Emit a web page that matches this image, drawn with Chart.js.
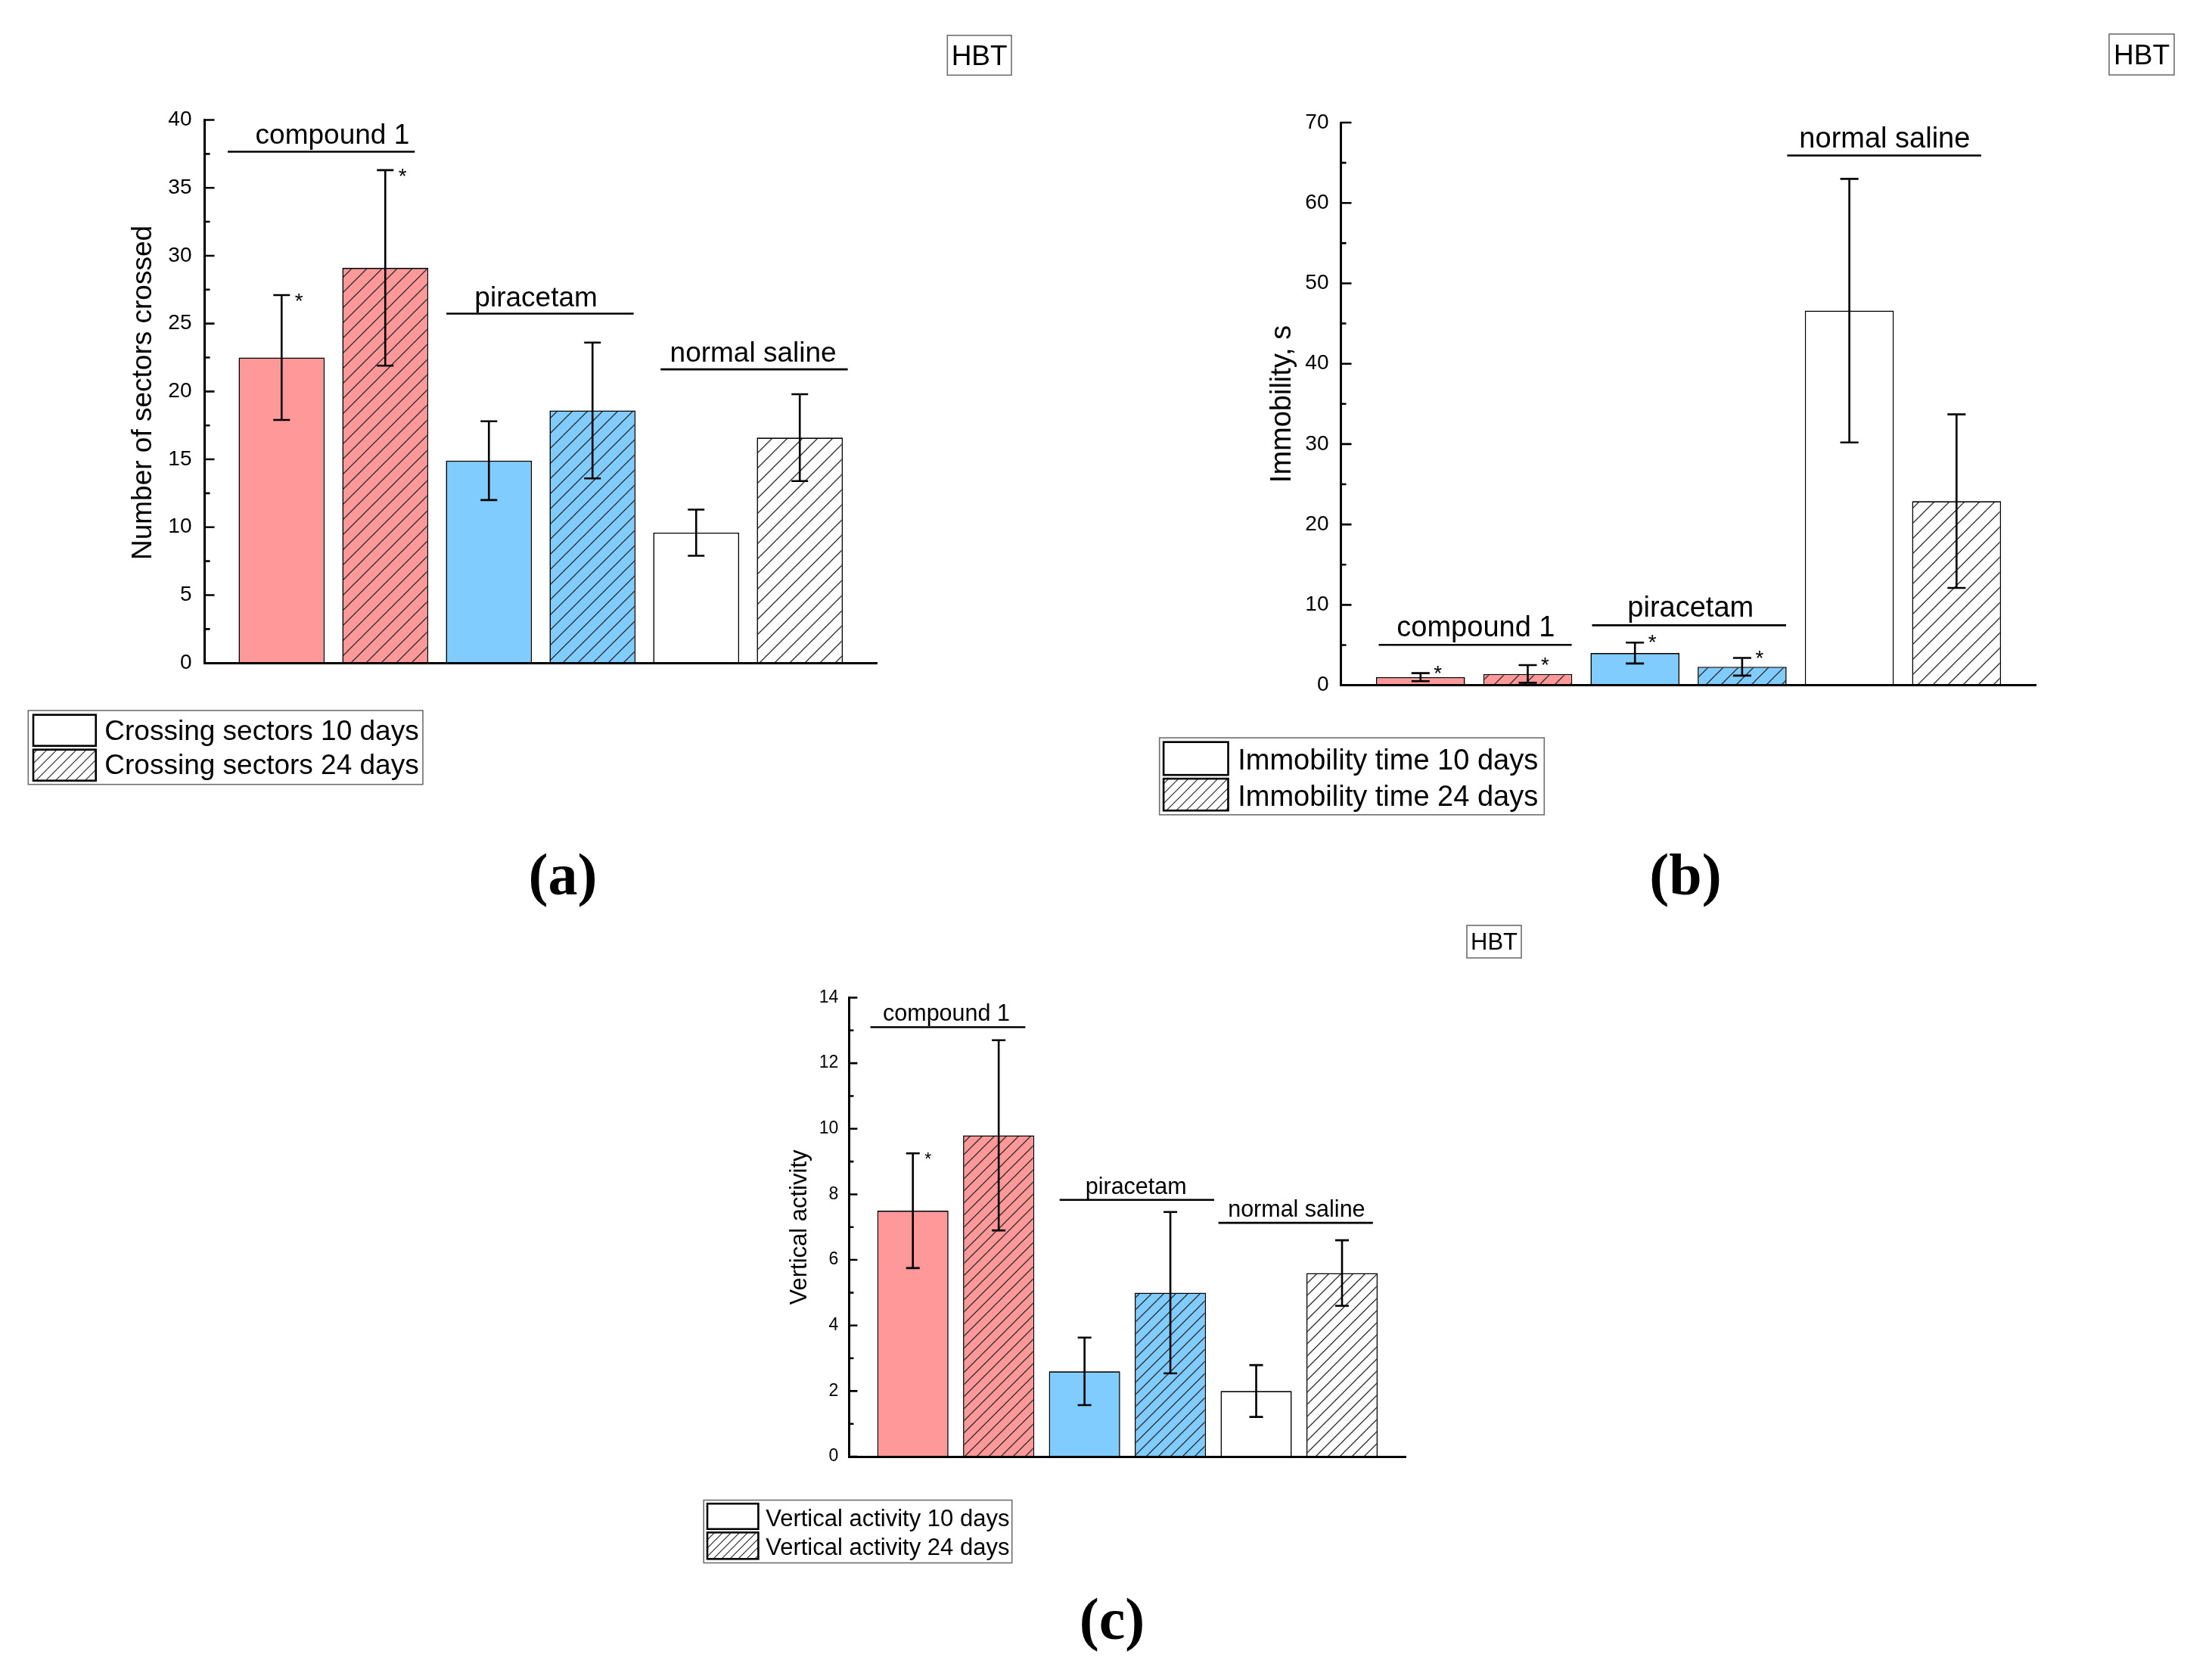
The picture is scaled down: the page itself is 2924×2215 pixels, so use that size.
<!DOCTYPE html>
<html>
<head>
<meta charset="utf-8">
<script src="https://cdn.jsdelivr.net/npm/chart.js@4.4.1/dist/chart.umd.min.js"></script>
<style>
html,body{margin:0;padding:0;background:#fff;width:2924px;height:2215px;overflow:hidden}
canvas{position:absolute;left:0;top:0}
</style>
</head>
<body>
<canvas id="chartA" width="2924" height="2215"></canvas>
<canvas id="chartB" width="2924" height="2215"></canvas>
<canvas id="chartC" width="2924" height="2215"></canvas>
<script>
// ---------------- data ----------------
const groupNames = ['compound 1', 'piracetam', 'normal saline'];
const barCategories = ['compound 1 / 10 days', 'compound 1 / 24 days', 'piracetam / 10 days', 'piracetam / 24 days', 'normal saline / 10 days', 'normal saline / 24 days'];

const crossingMean = [22.5, 29.1, 14.9, 18.6, 9.6, 16.6];
const crossingErr  = [4.6, 7.2, 2.9, 5.0, 1.7, 3.2];
const crossingSig  = [true, true, false, false, false, false];
const crossingTicks = [0, 5, 10, 15, 20, 25, 30, 35, 40];

const immobilityMean = [1.0, 1.4, 4.0, 2.3, 46.6, 22.9];
const immobilityErr  = [0.5, 1.1, 1.3, 1.1, 16.4, 10.8];
const immobilitySig  = [true, true, true, true, false, false];
const immobilityTicks = [0, 10, 20, 30, 40, 50, 60, 70];

const verticalMean = [7.5, 9.8, 2.6, 5.0, 2.0, 5.6];
const verticalErr  = [1.75, 2.9, 1.03, 2.46, 0.79, 1.0];
const verticalSig  = [true, false, false, false, false, false];
const verticalTicks = [0, 2, 4, 6, 8, 10, 12, 14];

// ---------------- styling ----------------
const W = 2924, H = 2215, AXW = 150;
const FONT = '"Liberation Sans", Arial, sans-serif';
const SERIF = '"Liberation Serif", "Times New Roman", serif';
const PINK = '#FF9999', BLUE = '#80CCFF', WHITE = '#FFFFFF';
const barFill = [PINK, PINK, BLUE, BLUE, WHITE, WHITE];
Chart.defaults.font.family = FONT;
Chart.defaults.color = '#000';

function hatch(color, s, lw) {
  const c = document.createElement('canvas');
  c.width = s; c.height = s;
  const x = c.getContext('2d');
  x.fillStyle = color; x.fillRect(0, 0, s, s);
  x.strokeStyle = '#2b2b2b'; x.lineWidth = lw;
  x.beginPath();
  x.moveTo(-1, s + 1); x.lineTo(s + 1, -1);
  x.moveTo(-s / 2 - 1, s / 2 + 1); x.lineTo(s / 2 + 1, -s / 2 - 1);
  x.moveTo(s / 2 - 1, s * 1.5 + 1); x.lineTo(s * 1.5 + 1, s / 2 - 1);
  x.stroke();
  return x.createPattern(c, 'repeat');
}

function build(id, S) {
  const hatchFill = barFill.map(c => hatch(c, S.hatch, 1.3));
  const legendHatch = hatch(WHITE, S.legend.hatch, 1.2);
  const even = [0, 2, 4], odd = [1, 3, 5];
  const mk = (idxs, label, fills) => ({
    label,
    data: idxs.map(i => ({ x: i, y: S.mean[i] })),
    backgroundColor: idxs.map(i => fills[i]),
    borderColor: '#000',
    borderWidth: 1.6,
    grouped: false,
    barPercentage: 0.83,
    categoryPercentage: 1
  });

  const plugin = {
    id: 'deco' + id,
    afterDatasetsDraw(chart) {
      const ctx = chart.ctx, ys = chart.scales.y, xs = chart.scales.x;
      ctx.save();
      ctx.strokeStyle = '#000'; ctx.lineWidth = 2.6; ctx.lineCap = 'butt';
      for (let i = 0; i < S.mean.length; i++) {
        const cx = xs.getPixelForValue(i);
        const yt = ys.getPixelForValue(S.mean[i] + S.err[i]);
        const yb = ys.getPixelForValue(S.mean[i] - S.err[i]);
        ctx.beginPath();
        ctx.moveTo(cx, yt); ctx.lineTo(cx, yb);
        ctx.moveTo(cx - S.cap, yt); ctx.lineTo(cx + S.cap, yt);
        ctx.moveTo(cx - S.cap, yb); ctx.lineTo(cx + S.cap, yb);
        ctx.stroke();
        if (S.sig[i]) {
          ctx.fillStyle = '#000';
          ctx.font = S.starSize + 'px ' + FONT;
          ctx.textAlign = 'center'; ctx.textBaseline = 'alphabetic';
          ctx.fillText('*', cx + S.starDx, yt + S.starDy + 0.575 * S.starSize);
        }
      }
      ctx.restore();
    },
    afterDraw(chart) {
      const ctx = chart.ctx, ys = chart.scales.y, xs = chart.scales.x;
      const left = chart.chartArea.left;
      ctx.save();
      ctx.strokeStyle = '#000'; ctx.lineWidth = 2.6;
      // major + minor ticks pointing inward
      const tk = S.ticks;
      ctx.beginPath();
      for (let i = 0; i < tk.length; i++) {
        const y = ys.getPixelForValue(tk[i]);
        ctx.moveTo(left, y); ctx.lineTo(left + S.major, y);
        if (i < tk.length - 1) {
          const ym = ys.getPixelForValue((tk[i] + tk[i + 1]) / 2);
          ctx.moveTo(left, ym); ctx.lineTo(left + S.minor, ym);
        }
      }
      ctx.stroke();
      // group labels
      ctx.fillStyle = '#000';
      ctx.font = S.groupSize + 'px ' + FONT;
      ctx.textAlign = 'center'; ctx.textBaseline = 'alphabetic';
      S.groups.forEach((g, k) => {
        const y = ys.getPixelForValue(g.y);
        ctx.beginPath();
        ctx.moveTo(xs.getPixelForValue(g.x1), y);
        ctx.lineTo(xs.getPixelForValue(g.x2), y);
        ctx.stroke();
        ctx.fillText(groupNames[k], xs.getPixelForValue(g.tx), y - S.groupGap);
      });
      // y title
      ctx.save();
      ctx.translate(S.title.x, S.title.y);
      ctx.rotate(-Math.PI / 2);
      ctx.font = S.title.size + 'px ' + FONT;
      ctx.textAlign = 'center'; ctx.textBaseline = 'middle';
      ctx.fillText(S.title.text, 0, 0);
      ctx.restore();
      // legend
      const L = S.legend;
      ctx.strokeStyle = '#6e6e6e'; ctx.lineWidth = 1.6;
      ctx.strokeRect(L.box[0], L.box[1], L.box[2] - L.box[0], L.box[3] - L.box[1]);
      const dsets = chart.data.datasets;
      [0, 1].forEach(j => {
        const r = L.sw[j];
        ctx.fillStyle = j === 0 ? WHITE : legendHatch;
        ctx.fillRect(L.sx[0], r[0], L.sx[1] - L.sx[0], r[1] - r[0]);
        ctx.strokeStyle = '#000'; ctx.lineWidth = 2.6;
        ctx.strokeRect(L.sx[0], r[0], L.sx[1] - L.sx[0], r[1] - r[0]);
        ctx.fillStyle = '#000';
        ctx.font = L.size + 'px ' + FONT;
        ctx.textAlign = 'left'; ctx.textBaseline = 'alphabetic';
        ctx.fillText(dsets[j].label, L.tx, L.base[j]);
      });
      // HBT box
      const B = S.hbt;
      ctx.strokeStyle = '#6e6e6e'; ctx.lineWidth = 1.6;
      ctx.strokeRect(B.x, B.y, B.w, B.h);
      ctx.fillStyle = '#000';
      ctx.font = B.size + 'px ' + FONT;
      ctx.textAlign = 'center'; ctx.textBaseline = 'alphabetic';
      ctx.fillText('HBT', B.x + B.w / 2, B.base);
      // panel label
      ctx.font = 'bold ' + S.panel.size + 'px ' + SERIF;
      ctx.textAlign = 'center'; ctx.textBaseline = 'alphabetic';
      ctx.fillText(S.panel.text, S.panel.x, S.panel.base);
      ctx.restore();
    }
  };

  return new Chart(document.getElementById(id), {
    type: 'bar',
    data: {
      datasets: [mk(even, S.labels[0], barFill), mk(odd, S.labels[1], hatchFill)]
    },
    options: {
      responsive: false,
      animation: false,
      events: [],
      layout: { padding: { left: S.area.l - AXW, top: S.area.t, right: W - S.area.r, bottom: H - S.area.b } },
      plugins: { legend: { display: false }, tooltip: { enabled: false }, title: { display: false } },
      scales: {
        x: {
          type: 'linear', min: -0.743, max: 5.743, offset: false,
          afterBuildTicks: s => { s.ticks = barCategories.map((c, i) => ({ value: i })); },
          ticks: { display: false },
          grid: { drawOnChartArea: false, drawTicks: false, color: 'rgba(0,0,0,0)' },
          border: { display: true, width: 3, color: '#000', z: 1 },
          afterFit: s => { s.height = 0; }
        },
        y: {
          min: 0, max: S.ticks[S.ticks.length - 1],
          afterBuildTicks: s => { s.ticks = S.ticks.map(v => ({ value: v })); },
          ticks: { padding: S.tickPad, color: '#000', autoSkip: false, font: { family: FONT, size: S.tickSize } },
          grid: { drawOnChartArea: false, drawTicks: false, color: 'rgba(0,0,0,0)' },
          border: { display: true, width: 3, color: '#000', z: 1 },
          afterFit: s => { s.width = AXW; }
        }
      }
    },
    plugins: [plugin]
  });
}

// ---------------- panel (a) ----------------
build('chartA', {
  mean: crossingMean, err: crossingErr, sig: crossingSig, ticks: crossingTicks,
  labels: ['Crossing sectors 10 days', 'Crossing sectors 24 days'],
  area: { l: 270.5, r: 1159, t: 158.5, b: 876.2 },
  hatch: 20, cap: 11, starDx: 23, starDy: 1, starSize: 28,
  tickSize: 28, tickPad: 17, major: 13, minor: 7,
  groupSize: 37, groupGap: 10,
  groups: [
    { x1: -0.52, x2: 1.285, y: 37.66, tx: 0.49 },
    { x1: 1.59, x2: 3.397, y: 25.73, tx: 2.455 },
    { x1: 3.657, x2: 5.463, y: 21.63, tx: 4.55 }
  ],
  title: { text: 'Number of sectors crossed', x: 190, y: 519, size: 37 },
  legend: { box: [37.3, 939, 559, 1036.7], sx: [44, 126.7], sw: [[944.7, 985.7], [990.7, 1031.7]], tx: 138.3, base: [978.3, 1023.3], size: 37, hatch: 13 },
  hbt: { x: 1252.3, y: 46.7, w: 84.7, h: 52.6, size: 37, base: 86 },
  panel: { text: '(a)', x: 744, base: 1182, size: 78 }
});

// ---------------- panel (b) ----------------
build('chartB', {
  mean: immobilityMean, err: immobilityErr, sig: immobilitySig, ticks: immobilityTicks,
  labels: ['Immobility time 10 days', 'Immobility time 24 days'],
  area: { l: 1772.5, r: 2691.6, t: 162, b: 905.6 },
  hatch: 20, cap: 12, starDx: 23, starDy: -7, starSize: 28,
  tickSize: 28, tickPad: 16, major: 14, minor: 7,
  groupSize: 38, groupGap: 11,
  groups: [
    { x1: -0.39, x2: 1.41, y: 5.02, tx: 0.516 },
    { x1: 1.60, x2: 3.41, y: 7.46, tx: 2.519 },
    { x1: 3.42, x2: 5.23, y: 65.9, tx: 4.33 }
  ],
  title: { text: 'Immobility, s', x: 1696, y: 534, size: 38 },
  legend: { box: [1532.7, 975.1, 2041.3, 1076.8], sx: [1538.1, 1623.5], sw: [[980.7, 1024.2], [1029.1, 1071.2]], tx: 1636.2, base: [1017.2, 1064.9], size: 38, hatch: 13 },
  hbt: { x: 2788, y: 45, w: 86, h: 54, size: 37, base: 85 },
  panel: { text: '(b)', x: 2228, base: 1182, size: 78 }
});

// ---------------- panel (c) ----------------
build('chartC', {
  mean: verticalMean, err: verticalErr, sig: verticalSig, ticks: verticalTicks,
  labels: ['Vertical activity 10 days', 'Vertical activity 24 days'],
  area: { l: 1122.4, r: 1858.3, t: 1318.5, b: 1925 },
  hatch: 16, cap: 9, starDx: 20, starDy: 2, starSize: 23,
  tickSize: 23, tickPad: 14, major: 11, minor: 6,
  groupSize: 30.5, groupGap: 8,
  groups: [
    { x1: -0.495, x2: 1.31, y: 13.1, tx: 0.39 },
    { x1: 1.71, x2: 3.51, y: 7.83, tx: 2.60 },
    { x1: 3.56, x2: 5.36, y: 7.13, tx: 4.47 }
  ],
  title: { text: 'Vertical activity', x: 1057, y: 1622, size: 31 },
  legend: { box: [930.2, 1982.6, 1337.7, 2065.5], sx: [935, 1002.4], sw: [[1987.2, 2020.8], [2025.3, 2060.3]], tx: 1012.2, base: [2017, 2054.5], size: 31, hatch: 11 },
  hbt: { x: 1939, y: 1223, w: 72, h: 43, size: 31, base: 1255 },
  panel: { text: '(c)', x: 1470, base: 2166, size: 78 }
});
</script>
</body>
</html>
